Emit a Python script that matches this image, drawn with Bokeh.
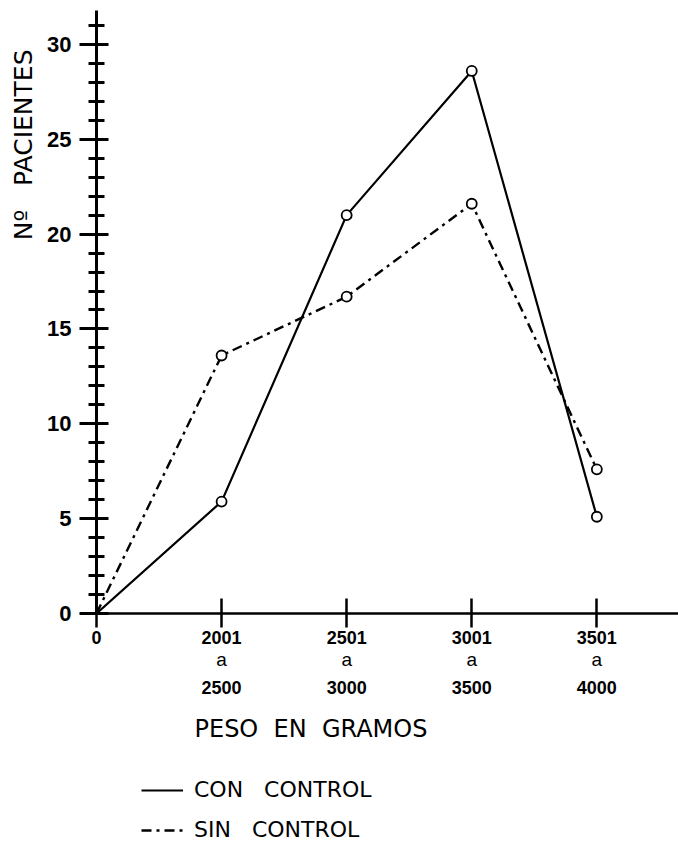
from bokeh.plotting import figure
from bokeh.layouts import column
from bokeh.models import (Range1d, FixedTicker, LinearAxis, Title, Legend, LegendItem)
from bokeh.embed import file_html
from bokeh.resources import INLINE

# ---- data ----
range_from = ["2001", "2501", "3001", "3501"]
range_to = ["2500", "3000", "3500", "4000"]
x_pos = [0, 1, 2, 3, 4]                      # 0 = origin, then the weight ranges
con_control = [0, 5.9, 21.0, 28.6, 5.1]
sin_control = [0, 13.6, 16.7, 21.6, 7.6]
y_ticks = [0, 5, 10, 15, 20, 25, 30]
y_minor = list(range(0, 32))
series_names = ["CON   CONTROL", "SIN   CONTROL"]
NB = "\u00a0"
x_title = f"PESO{NB*2}EN{NB*2}GRAMOS"
y_title = f"Nº{NB*3}PACIENTES"

W = 678
H1, H2 = 760, 88
FL, FT, FB = 95, 10, 613          # frame left / top / bottom (px)
PX_X = 125.3                      # px per category step
PX_Y = 18.97                      # px per patient

p = figure(width=W, height=H1,
           x_range=Range1d(0, (W - FL) / PX_X), y_range=Range1d(0, (FB - FT) / PX_Y),
           output_backend="svg", toolbar_location=None,
           min_border_left=FL, min_border_right=0, min_border_top=FT,
           min_border_bottom=H1 - FB)
p.grid.visible = False
p.outline_line_color = None

BOLD = "Liberation Sans"
# ---- y axis ----
ya = p.yaxis[0]
ya.ticker = FixedTicker(ticks=y_ticks, minor_ticks=y_minor)
ya.axis_line_width = 3
ya.major_tick_line_width = 3
ya.minor_tick_line_width = 3
ya.major_tick_in = 12
ya.major_tick_out = 17
ya.minor_tick_in = 8
ya.minor_tick_out = 8
ya.major_label_standoff = 8
ya.major_label_text_font = BOLD
ya.major_label_text_font_style = "bold"
ya.major_label_text_font_size = "22px"
ya.major_label_text_color = "black"

# ---- x axis, first row of labels ----
xa = p.xaxis[0]
xa.ticker = FixedTicker(ticks=x_pos)
xa.major_label_overrides = {x: t for x, t in zip(x_pos, ["0"] + range_from)}
xa.axis_line_width = 2.5
xa.major_tick_line_width = 2.5
xa.major_tick_in = 15
xa.major_tick_out = 14
xa.minor_tick_line_color = None
xa.major_label_standoff = 3
xa.major_label_text_font = BOLD
xa.major_label_text_font_style = "bold"
xa.major_label_text_font_size = "18px"
xa.major_label_text_color = "black"


def label_row(labels, standoff, font, style, size):
    ax = LinearAxis(ticker=FixedTicker(ticks=x_pos[1:]),
                    major_label_overrides={x: t for x, t in zip(x_pos[1:], labels)})
    ax.axis_line_color = None
    ax.major_tick_line_color = None
    ax.minor_tick_line_color = None
    ax.major_tick_in = 0
    ax.major_tick_out = 0
    ax.minor_tick_in = 0
    ax.minor_tick_out = 0
    ax.major_label_standoff = standoff
    ax.major_label_text_font = font
    ax.major_label_text_font_style = style
    ax.major_label_text_font_size = size
    ax.major_label_text_color = "black"
    p.add_layout(ax, "below")


label_row(["a"] * 4, 2, "Liberation Sans", "normal", "19px")
label_row(range_to, 8, BOLD, "bold", "18px")

# ---- x axis title ----
p.add_layout(Title(text=x_title, align="left", offset=193 - FL,
                   vertical_align="middle", standoff=34,
                   text_font="DejaVu Sans", text_font_style="normal",
                   text_font_size="24px", text_color="black"), "below")

# ---- y axis title ----
p.add_layout(Title(text=y_title, align="right", offset=39,
                   vertical_align="bottom", standoff=13,
                   text_font="DejaVu Sans", text_font_style="normal",
                   text_font_size="25px", text_color="black"), "left")

# ---- series ----
line_styles = [dict(line_width=2.2, line_color="black"),
               dict(line_width=2.4, line_color="black", line_dash="10 5 3 5")]
for vals, st in zip([con_control, sin_control], line_styles):
    p.line(x_pos, vals, **st)
    p.scatter(x_pos[1:], vals[1:], marker="circle", size=10, fill_color="white",
              line_color="black", line_width=1.8)

# ---- legend (separate strip below the chart, frames aligned with the chart) ----
p2 = figure(width=W, height=H2, output_backend="svg", toolbar_location=None,
            x_axis_type=None, y_axis_type=None,
            min_border_left=0, min_border_right=0, min_border_top=0, min_border_bottom=0)
p2.grid.visible = False
p2.outline_line_color = None
items = []
for name, vals, st in zip(series_names, [con_control, sin_control], line_styles):
    r = p2.line(x_pos, vals, visible=False, **st)
    items.append(LegendItem(label=name, renderers=[r]))
legend = Legend(items=items, location=(140 - FL, 6), orientation="vertical",
                glyph_width=42, glyph_height=20, label_height=20, label_standoff=11,
                spacing=15, padding=0, margin=0,
                label_text_font="DejaVu Sans", label_text_font_size="22px",
                label_text_color="black", inactive_fill_alpha=0,
                border_line_color=None, background_fill_alpha=0)
p2.add_layout(legend)

layout = column(p, p2, spacing=0)
open("out.html", "w").write(file_html(layout, INLINE))
